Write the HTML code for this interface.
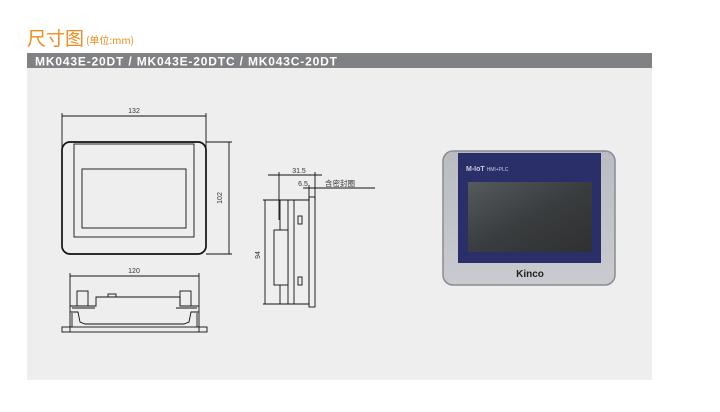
<!DOCTYPE html>
<html><head><meta charset="utf-8"><style>
body{margin:0;width:720px;height:407px;background:#fff;overflow:hidden;font-family:"Liberation Sans","Noto Sans CJK SC",sans-serif}
</style></head><body>
<svg width="720" height="407" xmlns="http://www.w3.org/2000/svg" font-family="Liberation Sans, Noto Sans CJK SC, sans-serif">
<defs>
<linearGradient id="scr" x1="0" y1="0" x2="1" y2="1"><stop offset="0" stop-color="#555a5c"/><stop offset="0.5" stop-color="#3a3d3f"/><stop offset="1" stop-color="#2e3031"/></linearGradient>
<linearGradient id="frame" x1="0" y1="0" x2="0" y2="1"><stop offset="0" stop-color="#b9bcc2"/><stop offset="1" stop-color="#c9cbd0"/></linearGradient>
</defs>
<text x="27" y="45" font-size="19" fill="#f08c1e" font-family="Noto Sans CJK SC, sans-serif">尺寸图</text>
<text x="86" y="44" font-size="10" fill="#f08c1e" font-family="Noto Sans CJK SC, sans-serif">(单位:mm)</text>
<rect x="27" y="53" width="625" height="15" fill="#808185"/>
<text x="35" y="65.5" font-size="12" font-weight="bold" fill="#fff" letter-spacing="1" textLength="303" lengthAdjust="spacing">MK043E-20DT / MK043E-20DTC / MK043C-20DT</text>
<rect x="27" y="68" width="625" height="312" fill="#eeeeee"/>
<g stroke="#111" fill="none" stroke-width="0.9">
<line x1="62" y1="116" x2="206" y2="116"/><line x1="62" y1="113" x2="62" y2="148"/><line x1="206" y1="113" x2="206" y2="148"/>
<rect x="62" y="142" width="144" height="112" rx="8" stroke-width="1.7"/>
<rect x="74" y="144" width="120" height="93"/>
<rect x="82" y="169" width="104" height="59"/>
<line x1="229" y1="142" x2="229" y2="254"/><line x1="206" y1="142" x2="232" y2="142"/><line x1="206" y1="254" x2="232" y2="254"/>
<line x1="70" y1="276" x2="199" y2="276"/><line x1="70" y1="273" x2="70" y2="332"/><line x1="199" y1="273" x2="199" y2="332"/>
<rect x="62" y="327" width="145" height="5"/>
<rect x="77" y="291" width="11" height="15"/><rect x="180" y="291" width="11" height="15"/>
<path d="M70 306 H96 V297 H180 V306 H199" />
<path d="M72 308 H95 M176 308 H197 M70 312 H78 L80 322 L85 324 H184 L189 322 L191 312 H199"/>
<line x1="72" y1="313" x2="72" y2="327"/><line x1="197" y1="313" x2="197" y2="327"/>
<rect x="108" y="294" width="8" height="3"/>
<line x1="268" y1="175" x2="322" y2="175"/><line x1="279" y1="172" x2="279" y2="220"/><line x1="315" y1="172" x2="315" y2="200"/>
<line x1="303" y1="188" x2="375" y2="188"/><line x1="309" y1="185" x2="309" y2="200"/>
<rect x="309" y="197" width="6" height="110"/>
<rect x="280" y="200" width="29" height="104"/>
<line x1="263" y1="200" x2="309" y2="200"/><line x1="263" y1="304" x2="309" y2="304"/>
<line x1="288" y1="200" x2="288" y2="304"/><line x1="294" y1="200" x2="294" y2="304"/>
<rect x="274" y="230" width="14" height="55" fill="#eee"/>
<rect x="298" y="216" width="4" height="8"/><rect x="298" y="277" width="4" height="8"/>
<line x1="265" y1="200" x2="265" y2="304"/>
</g>
<g font-size="7" fill="#333" text-anchor="middle">
<text x="134" y="113">132</text>
<text x="134" y="273">120</text>
<text x="222" y="198" transform="rotate(-90 222 198)">102</text>
<text x="299" y="173">31.5</text>
<text x="303" y="186">6.5</text>
<text x="258" y="257" transform="rotate(-90 258 255)">94</text>
<text x="340" y="186" font-size="7.5">含密封圈</text>
</g>
<rect x="443" y="151" width="172" height="134" rx="10" fill="url(#frame)" stroke="#8a8c90" stroke-width="1.5"/>
<rect x="458" y="153" width="143" height="110" fill="#2a2f6a"/>
<rect x="468" y="182" width="124" height="70" fill="url(#scr)"/>
<text x="466" y="171" font-size="7" font-weight="bold" fill="#ccd">M-IoT <tspan font-size="5" font-weight="normal">HMI+PLC</tspan></text>
<text x="530" y="277" font-size="10" font-weight="bold" fill="#222" text-anchor="middle">Kinco</text>
</svg>
</body></html>
